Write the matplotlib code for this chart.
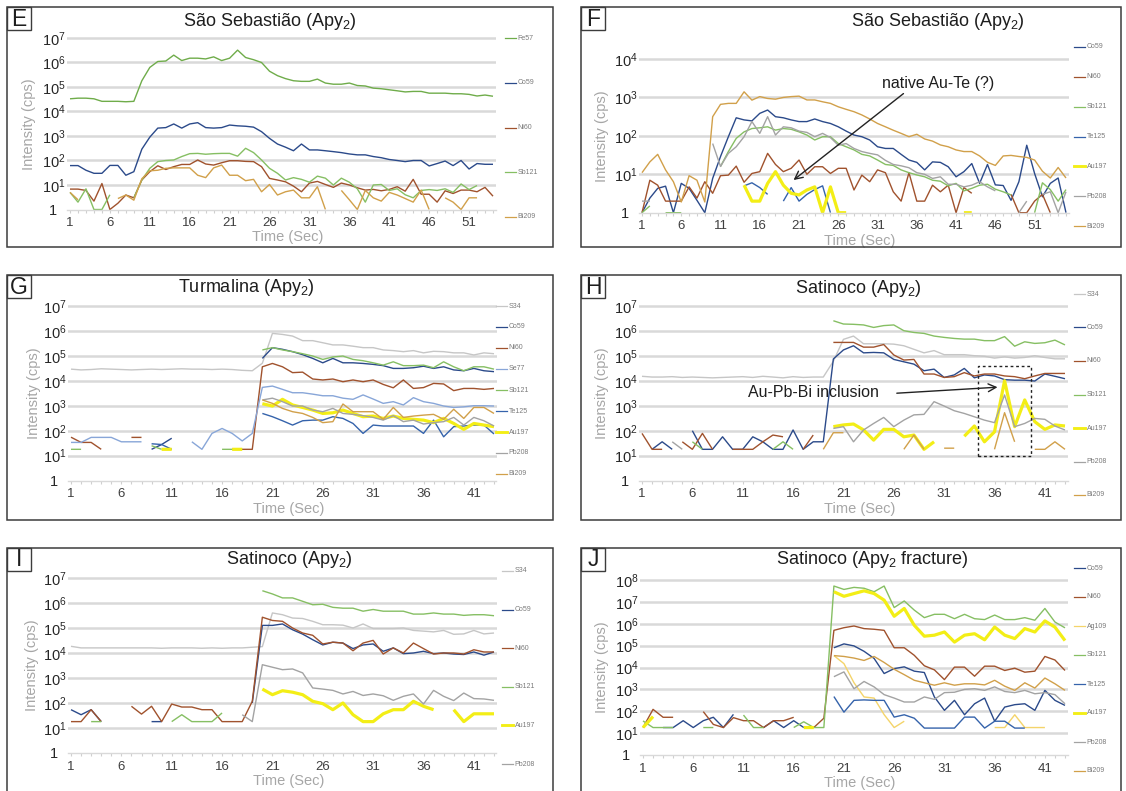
import numpy as np
import matplotlib
matplotlib.use("Agg")
import matplotlib.pyplot as plt
from matplotlib.patches import Rectangle
from matplotlib.lines import Line2D
from matplotlib.ticker import NullLocator

plt.rcParams['font.family'] = ['Liberation Sans', 'DejaVu Sans']
plt.rcParams['mathtext.fontset'] = 'custom'
plt.rcParams['mathtext.rm'] = 'Liberation Sans'
plt.rcParams['mathtext.it'] = 'Liberation Sans:italic'
plt.rcParams['mathtext.bf'] = 'Liberation Sans:bold'

W, H = 1126, 791
_ = None

# ---------------- Panel E : São Sebastião (Apy2), 54 s ----------------
E_FE57 = [3.3e4, 3.5e4, 3.5e4, 3.3e4, 2.6e4, 2.6e4, 2.6e4, 2.5e4, 2.6e4,
          1.8e5, 6.3e5, 1.1e6, 1.15e6, 2.0e6, 1.2e6, 1.5e6, 1.5e6, 1.4e6, 1.7e6,
          1.2e6, 1.5e6, 3.2e6, 1.6e6, 1.3e6, 1.0e6, 4.4e5, 2.9e5, 2.2e5, 1.8e5,
          1.7e5, 1.7e5, 2.1e5, 1.45e5, 1.3e5, 1.3e5, 1.45e5, 1.15e5, 1.1e5, 9e4,
          8.5e4, 7.7e4, 7e4, 6.3e4, 6.6e4, 6.6e4, 5.6e4, 5.6e4, 5.6e4, 5.3e4,
          5.3e4, 5e4, 4.3e4, 4.7e4, 4.2e4]
E_CO59 = [62, 62, 40, 30, 30, 63, 63, 25, 35,
          290, 900, 2100, 2200, 3100, 2100, 3100, 3500, 2200, 2100,
          2200, 2800, 2600, 2500, 2300, 1500, 800, 470, 350, 250,
          470, 270, 270, 250, 230, 210, 185, 170, 170, 145,
          130, 110, 100, 90, 100, 100, 60, 75, 95, 62,
          100, 45, 75, 70, 70]
E_NI60 = [6.8, 6.8, 6, 2.2, 11.5, 1, 1.8, 3.9, 3,
          16, 35, 61, 43, 56, 69, 69, 105, 72, 65,
          81, 98, 98, 92, 90, 56, 18.6, 16, 13.5, 9,
          5.3, 12, 14, 10.5, 8, 12, 10, 7.7, 6.2, 6.6,
          5.8, 6.6, 8.5, 5.6, 17, 4.2, 4.2, 2, 5.8, 4.5,
          6.2, 6.2, 5.3, 8, 3.5]
E_SB121 = [5, 2, 7, 1, 1, 4, _, _, 3,
           16, 48, 90, 100, 105, 145, 190, 195, 180, 190,
           195, 195, 150, 315, 210, 105, 48, 30, 16, 20,
           17, 13, 23, 19, 10, 19, 13, 7, 2, 10,
           10.5, 6, 7, 4, 3, 6, 6.5, 6, 7, 5,
           11, 6.5, 9.5, _, _]
E_BI209 = [5, 2.5, _, _, _, _, 2.8, 3.9, 2.4,
           18, 38, 40, 48, 50, 50, 50, 25, 20, 50,
           65, 25, 25, 15, 17, 5.3, 10.5, 3.9, 5.3, 6.2,
           3, 3, 8.5, 1, _, 6, 2.5, 1, 6, 3,
           2.2, 5, 3.9, 2.8, 2, 6.2, 1, _, 3, 2,
           1, 3, 3, _, _]

# ---------------- Panel F : São Sebastião (Apy2), 55 s ----------------
F_CO59 = [1, 2.4, 4.3, 4.9, 1, 5.8, 4.3, 2.1, 1, 7.8,
          29, 95, 295, 260, 245, 385, 470, 315, 295, 260,
          235, 235, 275, 235, 210, 172, 133, 105, 95, 78,
          52, 47, 47, 33, 23.5, 20.4, 13, 21, 20.4, 15.7,
          8.6, 11.7, 19, 5.8, 18, 5.3, 5.1, 2.1, 6.4, 57,
          10.5, 2.6, 5.8, 8, 1]
F_NI60 = [1, 7, 5.2, 2, 2, 2, 4.7, 2.4, 6.4, 3.2,
          9.2, 9.5, 16.3, 6.2, 10.5, 11.7, 35, 18, 11.7, 14.3,
          23.5, 10, 15.7, 15.7, 10.5, 14.3, 14.3, 3.9, 9.5, 6.4,
          13, 11, 3.5, 2, 11, 2, 2, 5.2, 3.5, 5.2,
          1, 4.5, 3.2, _, _, _, _, 3, 1, 1,
          2, 3, 1, _, _]
F_SB121 = [1, 1.5, _, 1, 1, 1, _, _, _, _,
           16, 39, 86, 127, 155, 162, 172, 141, 155, 148,
           127, 105, 78, 95, 95, 63, 52, 43, 33, 30,
           23.5, 18, 17, 13, 11, 9.6, 8.6, 7, 6.6, 5,
           5.8, 3.7, 4.3, 5.2, 5.5, 4.1, 3.5, 2.9, _, _,
           1, 6, 4, 2, 4]
F_TE125 = [_, _, _, _, _, _, _, _, _, _,
           _, _, _, 5, 6, 4.5, 3, _, 2, 4.5,
           2, 3, 4, 5, 1, _, _, _, _, _,
           _, _, _, _, _, _, _, _, _, _,
           _, _, _, _, _, _, _, _, _, _,
           _, _, _, _, _]
F_AU197 = [_, _, _, _, _, _, _, _, _, _,
           _, _, _, 5.2, 2, 2, 5.8, 11.7, 5.2, 3.2,
           2.9, 3.9, 4.7, 1, 4.7, 1, 1, _, _, _,
           _, _, _, _, _, _, _, _, _, _,
           _, 1, 1, _, _, _, _, _, _, _,
           _, _, _, _, _]
F_PB208 = [2, 2, _, _, _, _, _, _, _, 63,
           16, 35, 52, 95, 235, 116, 315, 105, 172, 162,
           133, 123, 95, 116, 90, 57, 63, 47, 39, 35,
           32, 23, 18, 16.6, 14.8, 11, 10, 7.8, 8.6, 5.5,
           5.5, 4.7, 5.2, 6.4, 4.7, 3.7, _, _, 1, 2,
           _, 3, 3.5, 1, 3.5]
F_BI209 = [11, 21, 33, 13, 6.4, 1.9, 9.2, 7, 1.9, 315,
           660, 700, 700, 1400, 850, 1050, 940, 900, 1000, 1050,
           1080, 860, 860, 770, 700, 570, 490, 425, 350, 275,
           210, 172, 140, 116, 95, 110, 83, 73, 58, 52,
           43, 39, 39, 30, 20.5, 17, 30, 31, 29, 27.5,
           23.5, 12, 8, 15, 8]

# ---------------- Panel G : Turmalina (Apy2), 43 s ----------------
G_S34 = [2.9e4, 2.7e4, 2.8e4, 3.0e4, 2.9e4, 2.8e4, 2.7e4, 2.8e4, 2.9e4, 2.8e4,
         2.9e4, 3.0e4, 2.9e4, 2.9e4, 2.8e4, 2.9e4, 2.8e4, 2.6e4, 2.5e4, 5e4,
         7.8e5, 7.1e5, 6.1e5, 4e5, 4e5, 3.3e5, 2.7e5, 2.7e5, 2.4e5, 2.1e5,
         2.1e5, 1.7e5, 1.6e5, 1.45e5, 1.6e5, 1.3e5, 1.5e5, 1.45e5, 1.3e5, 1.3e5,
         1.07e5, 1.3e5, 1.2e5]
G_CO59 = [_, _, _, _, _, _, _, _, 18, 28,
          50, _, _, _, _, _, _, _, _, 7.8e4,
          2.1e5, 1.8e5, 1.45e5, 1.1e5, 7.8e4, 5.2e4, 7.8e4, 5.2e4, 5.2e4, 4.9e4,
          4.5e4, 4e4, 3.1e4, 3.1e4, 3.3e4, 3.8e4, 3.1e4, 3.6e4, 2.7e4, 2.5e4,
          3.1e4, 2.5e4, 2.3e4]
G_NI60 = [55, 34, 34, 18, _, _, 54, 54, _, _,
          _, _, _, _, _, _, 18, 18, 18, 3.6e4,
          4.9e4, 3.6e4, 2.1e4, 2.2e4, 1.17e4, 1.07e4, 1.17e4, 9.1e3, 1.07e4, 9.1e3,
          1.07e4, 7.1e3, 5.2e3, 1.07e4, 4.9e3, 5.3e3, 7.8e3, 7.4e3, 4e3, 4.9e3,
          4.9e3, 4.5e3, 4.9e3]
G_SE77 = [34, 34, 54, 54, 54, 36, 36, 36, _, _,
          _, _, 36, 18, 78, 123, 78, 39, 78, 5.4e3,
          6.1e3, 4.5e3, 3.3e3, 3.3e3, 2.9e3, 2.5e3, 2.5e3, 2e3, 1.8e3, 2.7e3,
          1.85e3, 1.24e3, 1.45e3, 1.07e3, 2.1e3, 1.45e3, 1.24e3, 970, 850, 900,
          1e3, 1e3, 970]
G_SB121 = [18, 18, _, _, _, _, _, _, 25, 18,
           _, _, _, _, _, 18, 18, 18, _, 1.7e5,
           2.1e5, 1.7e5, 1.45e5, 1.2e5, 9.7e4, 7.1e4, 8.9e4, 9.7e4, 7.1e4, 6.3e4,
           5.2e4, 4.2e4, 5.7e4, 4e4, 4e4, 4.2e4, 3.3e4, 5.7e4, 3.6e4, 2.5e4,
           3.6e4, 3.6e4, 2.9e4]
G_TE125 = [_, _, _, _, _, _, _, _, 30, 28,
           18, _, _, _, _, _, _, _, _, 490,
           363, 250, 168, 250, 265, 265, 363, 310, 195, 78,
           168, 154, 154, 154, 154, 78, 265, 57, 145, 154,
           168, 168, 74]
G_AU197 = [_, _, _, _, _, _, _, _, _, 18,
           18, _, _, _, _, _, 18, 18, _, 1.2e3,
           970, 1.8e3, 1.07e3, 850, 670, 490, 520, 670, 490, 363,
           385, 310, 385, 310, 285, 265, 210, 310, 195, 113,
           195, 168, 145]
G_PB208 = [_, _, _, _, _, _, _, _, _, _,
           _, _, _, _, _, _, _, _, _, 1.7e3,
           2e3, 1.45e3, 970, 970, 670, 575, 780, 490, 450, 400,
           340, 265, 400, 230, 265, 185, 210, 230, 340, 168,
           340, 250, 154]
G_BI209 = [_, _, _, _, _, _, _, _, _, _,
           _, _, _, _, _, _, _, _, _, 1.7e3,
           1.24e3, 780, 575, 490, 340, 210, 230, 1.17e3, 575, 575,
           575, 285, 850, 340, 385, 420, 450, 285, 720, 310,
           850, 850, 490]

# ---------------- Panel H : Satinoco (Apy2), 43 s ----------------
H_S34 = [1.5e4, 1.4e4, 1.4e4, 1.45e4, 1.35e4, 1.4e4, 1.35e4, 1.3e4, 1.35e4, 1.4e4,
         1.45e4, 1.35e4, 1.5e4, 1.4e4, 1.3e4, 1.45e4, 1.35e4, 1.4e4, 1.4e4, 6e4,
         4.5e5, 6.1e5, 3e5, 3e5, 3e5, 2.9e5, 2.5e5, 1.8e5, 1.3e5, 1.6e5,
         1.1e5, 1.1e5, 1.1e5, 1e5, 9.5e4, 8e4, 9e4, 8e4, 8.5e4, 1e5,
         8.5e4, 7.5e4, 7.5e4]
H_CO59 = [_, 18, 36, 18, _, 100, 18, 18, 57, 18,
          18, 57, 36, 18, 18, 107, 18, 36, 36, 7.4e4,
          1.7e5, 2.5e5, 1.3e5, 1.35e5, 1.3e5, 7.1e4, 5.7e4, 4.6e4, 2.5e4, 2.9e4,
          1.35e4, 1.7e4, 3.1e4, 1.3e4, 1.7e4, 1.55e4, 1.1e4, 1.05e4, 1.05e4, 9.7e3,
          1.85e4, 1.5e4, 1.2e4]
H_NI60 = [78, 18, 18, _, 36, 18, 78, 18, _, 18,
          18, 18, 36, 67, 57, _, 18, 67, _, 3.4e5,
          3.4e5, 3.4e5, 2.2e5, 2.2e5, 2.8e5, 1.07e5, 6.7e4, 7.1e4, 1.85e4, 1.85e4,
          1.35e4, 1.45e4, 2.1e4, 1.55e4, 1.85e4, 1.85e4, 1.55e4, 1.45e4, 1.2e4, 1.55e4,
          1.95e4, 1.95e4, 1.95e4]
H_SB121 = [_, _, _, _, _, 36, 18, _, _, _,
           _, _, _, 18, 36, 18, _, _, _, 2.5e6,
           1.85e6, 1.8e6, 1.7e6, 1.35e6, 1.6e6, 1.7e6, 1e6, 8.5e5, 7.8e5, 6.1e5,
           5.4e5, 4.9e5, 4.6e5, 4.6e5, 4e5, 4e5, 5.8e5, 2.4e5, 3.6e5, 3.1e5,
           3.3e5, 4.2e5, 2.7e5]
H_AU197 = [_, _, _, _, _, _, _, _, _, _,
           _, _, _, _, _, _, _, _, _, 145,
           170, 185, 107, 42, 113, 113, 57, 67, 18, 36,
           _, _, 60, 154, 36, 90, 1e4, 145, 1.7e3, 230,
           113, 170, 154]
H_PB208 = [_, _, _, 36, 18, _, _, _, _, _,
           _, _, _, _, _, _, _, _, _, 123,
           145, 36, 107, 195, 340, 145, 265, 430, 450, 1450,
           970, 630, 490, 360, 265, 210, 2700, 145, 195, 310,
           285, 154, 107]
H_BI209 = [_, _, _, _, _, _, _, _, _, _,
           _, _, _, _, _, _, _, _, 18, 83,
           83, _, _, _, _, _, 18, 67, 18, _,
           20, 20, _, _, _, 18, 525, 36, _, 18,
           18, 36, 18]

# ---------------- Panel I : Satinoco (Apy2), 43 s ----------------
I_S34 = [1.85e4, 1.6e4, 1.6e4, 1.6e4, 1.6e4, 1.6e4, 1.6e4, 1.6e4, 1.6e4, 1.55e4,
         1.6e4, 1.6e4, 1.6e4, 1.55e4, 1.6e4, 1.55e4, 1.6e4, 1.6e4, 1.7e4, 1.8e4,
         4e5, 3.4e5, 2.5e5, 2.4e5, 1.85e5, 1.35e5, 1.35e5, 1.3e5, 1e5, 1.45e5,
         9.5e4, 9.5e4, 9.5e4, 1e5, 8e4, 7.5e4, 7e4, 8e4, 5.6e4, 5.8e4,
         8e4, 5.8e4, 6.3e4]
I_CO59 = [54, 34, 54, 18, _, _, _, _, 18, 18,
          _, _, _, _, _, _, _, _, 100, 1.27e5,
          1.27e5, 1.45e5, 8.5e4, 5.7e4, 3.4e4, 2.1e4, 2.7e4, 2.5e4, 1.5e4, 2.1e4,
          2.3e4, 1.17e4, 1.6e4, 9.4e3, 1e4, 1.17e4, 9.4e3, 1e4, 9.1e3, 8.7e3,
          1.1e4, 8.2e3, 1.1e4]
I_NI60 = [18, 18, 54, 18, _, _, 74, 36, 74, 18,
          91, 69, 69, 54, 54, 18, 18, 18, 117, 2.7e5,
          2e5, 1.85e5, 1e5, 6.3e4, 5.1e4, 2.3e4, 2.7e4, 2.5e4, 1.23e4, 2.5e4,
          3.2e4, 9.1e3, 1.6e4, 1e4, 2.5e4, 1.5e4, 9.1e3, 1e4, 1e4, 9.1e3,
          1.35e4, 1.1e4, 1.1e4]
I_SB121 = [_, _, 18, 18, _, _, _, _, _, _,
           18, 34, 18, 18, 18, 40, _, _, _, 3.1e6,
           2.3e6, 1.6e6, 1.6e6, 1.17e6, 8.5e5, 8.9e5, 6.7e5, 6.2e5, 6.2e5, 4.7e5,
           5.5e5, 4.7e5, 4.7e5, 4.7e5, 3.6e5, 3.6e5, 4e5, 3.6e5, 3.6e5, 3.2e5,
           3.4e5, 3.4e5, 3.1e5]
I_AU197 = [_, _, _, _, _, _, _, _, _, _,
           _, _, _, _, _, _, _, _, _, 360,
           215, 310, 270, 215, 117, 94, 54, 100, 34, 18,
           18, 37, 54, 54, 117, 74, 54, _, 54, 18,
           37, 37, 37]
I_PB208 = [_, _, _, _, _, _, _, _, _, _,
           _, _, _, _, _, _, _, 34, 18, 3.4e3,
           2.7e3, 2.15e3, 2.3e3, 1.6e3, 400, 360, 320, 230, 290, 200,
           230, 195, 128, 185, 230, 91, 320, 185, 125, 250,
           150, 145, 128]

# ---------------- Panel J : Satinoco (Apy2 fracture), 43 s ----------------
J_CO59 = [_, _, 18, 18, 37, 18, 37, 53, 18, 72,
          _, _, 18, 37, 18, 37, 18, _, _, 8e4,
          1.2e5, 9.7e4, 5.5e4, 2.6e4, 5.3e3, 8.9e3, 1.07e4, 6.8e3, 5.9e3, 450,
          110, 315, 69, 220, 400, 35, 155, 200, 220, 110,
          900, 315, 185]
J_NI60 = [18, 122, 53, 53, _, _, 96, 25, 18, 51,
          37, 37, 18, 37, 37, 53, _, 18, 48, 5e5,
          6.6e5, 7.9e5, 6e5, 5.6e5, 5e5, 8e4, 8e4, 3.6e4, 1.2e4, 7.8e3,
          2.8e3, 1.04e4, 1.04e4, 4e3, 1.15e4, 1.15e4, 7.3e3, 9.3e3, 6.1e3, 6.8e3,
          3.2e4, 2.2e4, 7.3e3]
J_AG109 = [_, _, _, _, _, _, _, _, _, _,
           _, _, _, _, _, _, _, _, _, 3.5e4,
           1.5e4, 2e3, 450, 400, 70, 18, 35, _, _, _,
           _, _, _, _, _, 18, 18, 69, 18, 18,
           18, _, _]
J_SB121 = [36, 18, 18, 18, _, _, 18, 18, _, _,
           67, 18, 18, _, _, 18, 33, 18, 18, 5.3e7,
           3.7e7, 4.6e7, 4.2e7, 2.9e7, 5.3e7, 5.5e6, 1.1e7, 4.2e6, 1.9e6, 2.7e6,
           2.7e6, 1.7e6, 2.7e6, 1.7e6, 1.55e6, 2.5e6, 1.55e6, 1.55e6, 1.9e6, 1.45e6,
           5e6, 1.2e6, 6.5e5]
J_TE125 = [_, _, _, _, _, _, _, _, _, _,
           _, _, _, _, _, _, _, _, _, 470,
           91, 315, 330, 315, 315, 54, 69, 48, 17, 17,
           17, 17, 54, 54, 17, 35, 35, 17, 17, _,
           _, _, _]
J_AU197 = [18, 57, _, _, _, _, _, _, _, _,
           _, _, _, _, _, _, 18, 18, _, 2.9e7,
           1.8e7, 2.4e7, 3.2e7, 2.4e7, 1.2e7, 2.2e6, 5e6, 8.5e5, 2.7e5, 3e5,
           4.2e5, 1.45e5, 3e5, 3.5e5, 1.85e5, 7.1e5, 3e5, 2.1e5, 6e5, 4.2e5,
           1.35e6, 7e5, 1.7e5]
J_PB208 = [_, _, _, _, _, _, _, _, _, _,
           _, _, _, _, _, _, _, _, _, 3.8e3,
           6.3e3, 1.07e3, 2.3e3, 1.3e3, 575, 400, 265, 265, 450, 350,
           710, 740, 1e3, 1.07e3, 900, 1.3e3, 800, 710, 900, 630,
           710, 575, 220]
J_BI209 = [_, _, _, _, _, _, _, _, _, _,
           _, _, _, _, _, _, _, _, _, 3.5e4,
           3.2e4, 2.7e4, 2.1e4, 3.2e4, 1.7e4, 8.3e3, 4.7e3, 2.6e3, 2e3, 1.55e3,
           2e3, 1.55e3, 1.8e3, 1.8e3, 1.6e3, 2.6e3, 1.4e3, 900, 2e3, 1.15e3,
           3.3e3, 1.8e3, 900]

# ---------------- styling ----------------
COLOR = {
    'Fe57': '#6fac4a', 'Co59': '#2b4a8a', 'Ni60': '#a0522d', 'Sb121': '#86bf63',
    'Te125': '#3563ab', 'Au197': '#f3ee16', 'Pb208': '#a3a3a3', 'Bi209': '#d1a04a',
    'S34': '#c6c6c6', 'Se77': '#88a6d8', 'Ag109': '#f4d46a',
}
WIDTH = {'Au197': 2.3}
GRID = '#d9d9d9'
TICK_TXT = '#3f3f3f'
AXLABEL = '#a6a6a6'

fig = plt.figure(figsize=(W / 100, H / 100), dpi=100)


def fxy(px, py):
    return px / W, 1 - py / H


def frame(x0, y0, x1, y1, letter):
    (a, b), (c, d) = fxy(x0, y1), fxy(x1, y0)
    fig.add_artist(Rectangle((a, b), c - a, d - b, transform=fig.transFigure,
                             fill=False, ec='#3c3c3c', lw=1.1, zorder=5))
    (a, b), (c, d) = fxy(x0, y0 + 23), fxy(x0 + 24, y0)
    fig.add_artist(Rectangle((a, b), c - a, d - b, transform=fig.transFigure,
                             fill=False, ec='#3c3c3c', lw=1.0, zorder=5))
    fig.text(*fxy(x0 + 12, y0 + 12), letter, ha='center', va='center',
             fontsize=16.5, color='#1e1e1e')


def panel(p):
    series = p['series']
    n = max(len(v) for _, v in series)
    x1p, xnp = p['xpx']
    unit = (xnp - x1p) / (n - 1)
    top = p['top']
    ytp, y1p = p['ypx']
    dec = (y1p - ytp) / top
    pad_l, pad_r = 3.0, 2.5
    ext_t, ext_b = 0.12, 0.06
    left, right = x1p - pad_l, xnp + pad_r
    ax_top = ytp - ext_t * dec
    ax_bot = y1p + ext_b * dec
    ax = fig.add_axes([left / W, 1 - ax_bot / H, (right - left) / W, (ax_bot - ax_top) / H])
    ax.set_yscale('log')
    ax.set_xlim(1 - pad_l / unit, n + pad_r / unit)
    ax.set_ylim(10 ** (-ext_b), 10 ** (top + ext_t))
    ax.patch.set_alpha(0)

    for k in range(1, top + 1):
        ax.axhline(10.0 ** k, color=GRID, lw=1.8, zorder=0)
    for s in ('top', 'right', 'left'):
        ax.spines[s].set_visible(False)
    ax.spines['bottom'].set_position(('data', 1))
    ax.spines['bottom'].set_color(GRID)
    ax.spines['bottom'].set_linewidth(1.0)

    ticks = list(range(1, n + 1))
    ax.set_xticks(ticks)
    ax.set_xticklabels([str(t) if (t - 1) % 5 == 0 else '' for t in ticks])
    ax.tick_params(axis='x', length=2.5, width=0.8, color='#cfcfcf', direction='out',
                   labelsize=9.5, labelcolor=TICK_TXT, pad=3)
    yt = [10.0 ** k for k in range(0, top + 1)]
    ylab = ['1  '] + [r'$\mathregular{10^{%d}}$' % k for k in range(1, top + 1)]
    ax.set_yticks(yt)
    ax.set_yticklabels(ylab)
    ax.yaxis.set_minor_locator(NullLocator())
    ax.tick_params(axis='y', length=0, labelsize=10.5, labelcolor='#262626', pad=1.0)

    for name, vals in series:
        y = np.array(vals, dtype=float)
        x = np.arange(1, len(y) + 1)
        ax.plot(x, y, color=COLOR[name], lw=WIDTH.get(name, 1.0),
                solid_joinstyle='round', solid_capstyle='butt', zorder=2)

    # legend column on the right
    lx = p['legx']
    ly0, ly1 = p['legy']
    m = len(series)
    for i, (name, _v) in enumerate(series):
        yy = ly0 + (ly1 - ly0) * i / (m - 1)
        (a, b), (c, _d) = fxy(lx, yy), fxy(lx + 11, yy)
        fig.add_artist(Line2D([a, c], [b, b], transform=fig.transFigure,
                              color=COLOR[name], lw=WIDTH.get(name, 1.0) * 0.9))
        fig.text(*fxy(lx + 12.5, yy), name, fontsize=5, color='#7a7a7a',
                 ha='left', va='center')

    fig.text(*fxy(*p['title_xy']), p['title'], ha='center', va='center',
             fontsize=13, color='#1e1e1e')
    fig.text(*fxy(p['ylab_x'], (ytp + y1p) / 2), 'Intensity (cps)', rotation=90,
             ha='center', va='center', fontsize=10.5, color=AXLABEL)
    fig.text(*fxy((x1p + xnp) / 2 + 6, y1p + 28), 'Time (Sec)', ha='center',
             va='center', fontsize=10.5, color=AXLABEL)
    return ax


frame(7, 7, 553, 247, 'E')
frame(581, 7, 1121, 247, 'F')
frame(7, 275, 553, 520, 'G')
frame(581, 275, 1121, 520, 'H')
frame(7, 548, 553, 792, 'I')
frame(581, 548, 1121, 792, 'J')

axE = panel(dict(series=[('Fe57', E_FE57), ('Co59', E_CO59), ('Ni60', E_NI60),
                         ('Sb121', E_SB121), ('Bi209', E_BI209)],
                 xpx=(70, 493), top=7, ypx=(38, 209.5), legx=505, legy=(38, 217),
                 title='São Sebastião (Apy$_2$)', title_xy=(270, 21), ylab_x=29))

axF = panel(dict(series=[('Co59', F_CO59), ('Ni60', F_NI60), ('Sb121', F_SB121),
                         ('Te125', F_TE125), ('Au197', F_AU197), ('Pb208', F_PB208),
                         ('Bi209', F_BI209)],
                 xpx=(642, 1066), top=4, ypx=(59, 212.7), legx=1074, legy=(47, 226),
                 title='São Sebastião (Apy$_2$)', title_xy=(938, 21), ylab_x=602))

axG = panel(dict(series=[('S34', G_S34), ('Co59', G_CO59), ('Ni60', G_NI60),
                         ('Se77', G_SE77), ('Sb121', G_SB121), ('Te125', G_TE125),
                         ('Au197', G_AU197), ('Pb208', G_PB208), ('Bi209', G_BI209)],
                 xpx=(71, 494), top=7, ypx=(305.7, 480.7), legx=496, legy=(306, 474),
                 title='Turmalina (Apy$_2$)', title_xy=(246, 287), ylab_x=34))

axH = panel(dict(series=[('S34', H_S34), ('Co59', H_CO59), ('Ni60', H_NI60),
                         ('Sb121', H_SB121), ('Au197', H_AU197), ('Pb208', H_PB208),
                         ('Bi209', H_BI209)],
                 xpx=(642, 1065), top=7, ypx=(305.7, 480.7), legx=1074, legy=(294, 495),
                 title='Satinoco (Apy$_2$)', title_xy=(858, 288), ylab_x=602))

axI = panel(dict(series=[('S34', I_S34), ('Co59', I_CO59), ('Ni60', I_NI60),
                         ('Sb121', I_SB121), ('Au197', I_AU197), ('Pb208', I_PB208)],
                 xpx=(71, 494), top=7, ypx=(578, 753), legx=502, legy=(571, 764),
                 title='Satinoco (Apy$_2$)', title_xy=(289, 560), ylab_x=32))

axJ = panel(dict(series=[('Co59', J_CO59), ('Ni60', J_NI60), ('Ag109', J_AG109),
                         ('Sb121', J_SB121), ('Te125', J_TE125), ('Au197', J_AU197),
                         ('Pb208', J_PB208), ('Bi209', J_BI209)],
                 xpx=(643, 1065), top=8, ypx=(580, 755), legx=1074, legy=(568, 771),
                 title='Satinoco (Apy$_2$ fracture)', title_xy=(872, 560), ylab_x=602))

# annotations
axF.annotate('', xy=(20.3, 10 ** 0.85), xytext=(34.3, 10 ** 3.1),
             arrowprops=dict(arrowstyle='->', color='#222222', lw=1.0, mutation_scale=14,
                             shrinkA=0, shrinkB=0))
axF.text(38.7, 10 ** 3.35, 'native Au-Te (?)', ha='center', va='center',
         fontsize=11.5, color='#1e1e1e')

axH.annotate('', xy=(36.3, 10 ** 3.74), xytext=(26.3, 10 ** 3.5),
             arrowprops=dict(arrowstyle='->', color='#222222', lw=1.0, mutation_scale=14,
                             shrinkA=0, shrinkB=0))
axH.text(18.0, 10 ** 3.52, 'Au-Pb-Bi inclusion', ha='center', va='center',
         fontsize=11.5, color='#1e1e1e')
axH.add_patch(Rectangle((34.4, 10 ** 1.0), 39.6 - 34.4, 10 ** 4.6 - 10 ** 1.0,
                        fill=False, ec='#222222', lw=1.0, ls=(0, (2, 2)), zorder=4))

fig.savefig('out.png', dpi=100)
